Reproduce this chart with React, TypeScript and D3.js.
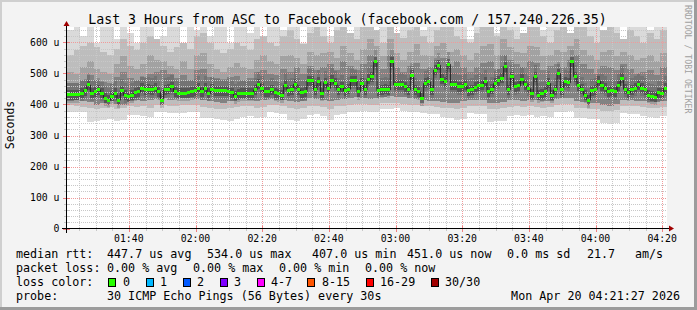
import React from 'react';
import * as d3 from 'd3';

const TITLE = 'Last 3 Hours from ASC to Facebook (facebook.com / 157.240.226.35)';
const START = new Date(2026, 3, 20, 1, 21, 27);
const END = new Date(2026, 3, 20, 4, 21, 27);
const Y_MAX = 650;

// median RTT (microseconds), one value per minute from START
const medianRtt = [
  431, 431, 431, 431, 436, 445, 463, 436, 441, 447,
  436, 420, 414, 427, 436, 414, 445, 430, 425, 430,
  438, 441, 452, 447, 449, 447, 452, 441, 414, 447,
  449, 457, 441, 436, 436, 436, 438, 441, 444, 452,
  441, 452, 436, 449, 444, 444, 444, 444, 443, 438,
  427, 434, 436, 436, 436, 436, 447, 466, 452, 441,
  441, 447, 438, 434, 430, 462, 445, 447, 466, 447,
  438, 441, 476, 476, 447, 473, 436, 470, 452, 479,
  468, 447, 457, 444, 449, 476, 476, 441, 468, 447,
  481, 490, 538, 444, 447, 449, 447, 538, 463, 463,
  463, 457, 447, 495, 447, 441, 420, 468, 473, 447,
  511, 527, 481, 473, 530, 463, 463, 457, 457, 463,
  445, 447, 456, 460, 462, 473, 441, 449, 468, 476,
  484, 522, 447, 489, 457, 460, 481, 463, 452, 435,
  489, 430, 434, 441, 468, 430, 447, 500, 447, 473,
  470, 538, 490, 460, 450, 430, 414, 444, 447, 475,
  460, 452, 441, 444, 441, 460, 484, 449, 438, 447,
  452, 463, 452, 447, 430, 427, 423, 438, 436, 452,
];

// smoke envelopes, one value per 2 minutes
const smokeMax = [
  640, 660, 620, 660, 600, 660, 660, 610, 660, 630,
  600, 660, 660, 590, 620, 660, 660, 600, 660, 640,
  660, 620, 660, 660, 600, 660, 660, 630, 660, 610,
  660, 660, 640, 660, 660, 600, 660, 660, 660, 620,
  660, 660, 610, 660, 660, 660, 630, 660, 660, 600,
  660, 660, 660, 640, 660, 660, 620, 660, 660, 660,
  610, 660, 660, 660, 630, 660, 660, 660, 600, 660,
  660, 640, 660, 660, 660, 620, 660, 660, 660, 660,
  630, 660, 660, 610, 660, 660, 660, 640, 660, 660,
];
const smokeHi2 = [
  560, 575, 590, 600, 585, 570, 560, 580, 610, 590,
  575, 600, 620, 610, 590, 570, 585, 600, 580, 620,
  630, 600, 575, 565, 580, 600, 590, 575, 610, 620,
  600, 590, 620, 640, 610, 595, 630, 650, 620, 600,
  640, 660, 630, 610, 650, 660, 640, 600, 660, 630,
  615, 640, 660, 620, 600, 640, 660, 650, 620, 610,
  600, 630, 660, 650, 620, 660, 640, 610, 630, 660,
  650, 620, 600, 640, 660, 630, 660, 650, 620, 600,
  640, 660, 630, 610, 640, 620, 600, 630, 610, 640,
];
const smokeHiMid = [
  505, 500, 520, 540, 515, 505, 500, 530, 555, 525,
  515, 530, 560, 545, 540, 525, 515, 540, 515, 560,
  565, 530, 515, 505, 520, 535, 520, 515, 545, 560,
  540, 530, 555, 560, 550, 530, 570, 560, 565, 570,
  550, 590, 565, 545, 580, 610, 590, 555, 610, 565,
  545, 570, 595, 560, 555, 590, 600, 570, 580, 560,
  545, 565, 590, 595, 560, 610, 585, 570, 565, 590,
  585, 555, 560, 575, 570, 590, 610, 575, 560, 545,
  570, 575, 555, 570, 560, 545, 550, 560, 540, 565,
];
const smokeHi1 = [
  470, 468, 480, 495, 478, 472, 470, 490, 505, 485,
  480, 490, 500, 505, 510, 500, 485, 495, 480, 510,
  515, 490, 485, 480, 488, 492, 478, 485, 505, 510,
  500, 495, 515, 505, 520, 500, 525, 510, 520, 530,
  510, 540, 525, 510, 530, 560, 545, 515, 560, 520,
  505, 525, 535, 515, 520, 545, 550, 525, 540, 520,
  505, 520, 535, 540, 515, 560, 545, 530, 520, 540,
  535, 510, 525, 530, 520, 545, 560, 530, 515, 500,
  525, 520, 510, 530, 515, 500, 505, 510, 495, 520,
];
const smokeLo1 = [
  412, 414, 410, 408, 400, 405, 410, 402, 400, 412,
  416, 410, 415, 418, 420, 415, 418, 420, 422, 418,
  414, 410, 408, 405, 410, 415, 418, 414, 412, 416,
  418, 415, 416, 410, 408, 412, 420, 418, 415, 410,
  416, 418, 420, 425, 422, 418, 420, 424, 428, 425,
  423, 420, 418, 415, 412, 410, 408, 405, 404, 410,
  416, 414, 415, 405, 404, 408, 414, 416, 412, 415,
  414, 412, 410, 418, 420, 422, 410, 408, 406, 404,
  398, 396, 402, 415, 414, 412, 410, 408, 408, 412,
];
const smokeLo2 = [
  398, 396, 392, 388, 385, 390, 393, 386, 388, 395,
  392, 394, 390, 398, 400, 396, 395, 398, 399, 400,
  392, 388, 386, 384, 390, 392, 396, 394, 390, 393,
  400, 398, 395, 388, 386, 390, 396, 394, 392, 386,
  395, 396, 400, 402, 401, 398, 400, 405, 406, 404,
  402, 400, 398, 396, 394, 392, 390, 388, 386, 390,
  396, 395, 394, 384, 385, 388, 392, 394, 393, 395,
  392, 390, 392, 400, 401, 402, 390, 388, 386, 385,
  380, 378, 382, 396, 395, 394, 392, 390, 389, 392,
];
const smokeMin = [
  377, 377, 375, 344, 346, 350, 352, 348, 350, 366,
  366, 364, 360, 377, 375, 371, 371, 372, 376, 377,
  355, 356, 354, 350, 348, 352, 360, 362, 358, 360,
  377, 372, 370, 350, 348, 352, 366, 368, 364, 350,
  366, 368, 377, 376, 378, 375, 377, 387, 386, 388,
  380, 377, 375, 372, 370, 368, 360, 355, 350, 352,
  372, 370, 370, 344, 346, 348, 362, 365, 364, 366,
  360, 362, 360, 377, 376, 378, 355, 356, 354, 352,
  340, 338, 340, 372, 370, 368, 362, 360, 358, 362,
];

const yMajorTicks = [0, 100, 200, 300, 400, 500, 600];
const yTickLabels = ['0', '100 u', '200 u', '300 u', '400 u', '500 u', '600 u'];
const yMinorTicks = [20, 40, 60, 80, 120, 140, 160, 180, 220, 240, 260, 280, 320, 340, 360, 380, 420, 440, 460, 480, 520, 540, 560, 580, 620, 640];

const rttLegend = ['median rtt:', '447.7 us avg', '534.0 us max', '407.0 us min', '451.0 us now', '0.0 ms sd', '21.7', 'am/s'];
const lossLegend = ['packet loss:', '0.00 % avg', '0.00 % max', '0.00 % min', '0.00 % now'];
const lossLabels = ['0', '1', '2', '3', '4-7', '8-15', '16-29', '30/30'];
const lossColors = ['#26ff00', '#00b8ff', '#0059ff', '#7e00ff', '#ff00ff', '#ff5500', '#ff0000', '#a10000'];
const probeLegend = ['probe:', '30 ICMP Echo Pings (56 Bytes) every 30s'];
const timestamp = 'Mon Apr 20 04:21:27 2026';

const MONO = '"DejaVu Sans Mono", monospace';

export default function App() {
  const W = 697, H = 310;
  const L = 67, R = 667, T = 27, B = 228.5;
  const x = d3.scaleTime().domain([START, END]).range([L, R]);
  const y = d3.scaleLinear().domain([0, Y_MAX]).range([B, T]);
  const tAt = (m: number) => d3.timeMinute.offset(START, m);
  const minorX = d3.timeMinute.every(5)!.range(START, END);
  const majorX = d3.timeMinute.every(20)!.range(START, END);
  const fmt = d3.timeFormat('%H:%M');
  const px = (v: number) => Math.round(v) + 0.5;

  const bands: [number[], number[], string][] = [
    [smokeMin, smokeMax, '#dadada'],
    [smokeLo2, smokeHi2, '#bdbdbd'],
    [smokeLo1, smokeHiMid, '#a2a2a2'],
    [smokeLo1, smokeHi1, '#828282'],
  ];

  const medLine = d3.line<number>()
    .x((_, i) => x(tAt(i)))
    .y((d) => y(d))
    .curve(d3.curveStepAfter)(medianRtt) || '';

  const rttX = [16, 107, 207, 312, 407, 507, 587, 635];
  const lossX = [16, 107, 193, 279, 365];
  const boxX = [108, 145.5, 182.5, 219.5, 256.5, 307, 365.5, 430.5];
  const lblX = [123, 160, 197, 234, 271, 322, 380, 445];

  return (
    <svg width={W} height={H} style={{ position: 'fixed', left: 0, top: 0, display: 'block' }}
      fontFamily={MONO}>
      <defs>
        <clipPath id="plot"><rect x={L} y={T} width={R - L} height={B - T} /></clipPath>
      </defs>
      <rect x={0} y={0} width={W} height={H} fill="#f3f3f3" />
      <rect x={0} y={0} width={W} height={2} fill="#cfcfcf" />
      <rect x={0} y={0} width={2} height={H} fill="#cfcfcf" />
      <rect x={0} y={H - 3} width={W} height={3} fill="#9c9c9c" />
      <rect x={W - 3} y={0} width={3} height={H} fill="#9c9c9c" />

      <rect x={L} y={T} width={R - L} height={B - T} fill="#ffffff" />

      <g clipPath="url(#plot)" shapeRendering="crispEdges">
        {bands.map(([lo, hi, c], bi) => (
          <g key={bi} fill={c}>
            {lo.map((v, j) => {
              const x0 = x(tAt(2 * j)), x1 = x(tAt(2 * j + 2));
              return <rect key={j} x={x0} y={y(hi[j])} width={x1 - x0} height={y(v) - y(hi[j])} />;
            })}
          </g>
        ))}
        <g fill="#505050">
          {medianRtt.map((v, k) => {
            const x0 = x(tAt(k)), x1 = x(tAt(k + 1));
            return <rect key={k} x={x0} y={y(v) - 12} width={x1 - x0} height={20} opacity={0.28} />;
          })}
        </g>
        <g fill="#3c3c3c">
          {medianRtt.map((v, k) => {
            const x0 = x(tAt(k)), x1 = x(tAt(k + 1));
            return <rect key={k} x={x0} y={y(v) - 5} width={x1 - x0} height={10} opacity={0.55} />;
          })}
        </g>
      </g>

      {/* grid */}
      <g shapeRendering="crispEdges" strokeWidth={1} strokeDasharray="1,1">
        {minorX.map((t, i) => (
          <line key={'mx' + i} x1={px(x(t))} x2={px(x(t))} y1={T} y2={B} stroke="#c8c8c8" />
        ))}
        {yMinorTicks.map((v, i) => (
          <line key={'my' + i} x1={L} x2={R} y1={px(y(v))} y2={px(y(v))} stroke="#c8c8c8" />
        ))}
        {majorX.map((t, i) => (
          <line key={'Mx' + i} x1={px(x(t))} x2={px(x(t))} y1={T} y2={B} stroke="#f09a9a" />
        ))}
        {yMajorTicks.filter((v) => v > 0).map((v, i) => (
          <line key={'My' + i} x1={L} x2={R} y1={px(y(v))} y2={px(y(v))} stroke="#f09a9a" />
        ))}
      </g>

      {/* median */}
      <g clipPath="url(#plot)">
        <path d={medLine} fill="none" stroke="#202020" strokeWidth={1} />
        <g fill={lossColors[0]} shapeRendering="crispEdges">
          {medianRtt.map((v, k) => {
            const x0 = x(tAt(k)), x1 = x(tAt(k + 1));
            return <rect key={k} x={x0} y={y(v) - 1.5} width={x1 - x0} height={3} />;
          })}
        </g>
      </g>

      {/* axes */}
      <g shapeRendering="crispEdges">
        {minorX.map((t, i) => (
          <line key={'tx' + i} x1={px(x(t))} x2={px(x(t))} y1={227} y2={231} stroke="#c8c8c8" />
        ))}
        {majorX.map((t, i) => (
          <line key={'Tx' + i} x1={px(x(t))} x2={px(x(t))} y1={226} y2={232} stroke="#f08080" />
        ))}
        {yMinorTicks.map((v, i) => (
          <line key={'ty' + i} x1={64} x2={69} y1={px(y(v))} y2={px(y(v))} stroke="#c8c8c8" />
        ))}
        {yMajorTicks.map((v, i) => (
          <line key={'Ty' + i} x1={63} x2={70} y1={px(y(v))} y2={px(y(v))} stroke="#f08080" />
        ))}
        <line x1={62} x2={670} y1={228.5} y2={228.5} stroke="#000" />
        <line x1={66.5} x2={66.5} y1={233} y2={23} stroke="#000" />
      </g>
      <path d="M669,225.5 L674,228.5 L669,231.5 Z" fill="#a00000" />
      <path d="M63.5,26 L66.5,21 L69.5,26 Z" fill="#a00000" />

      {/* tick labels */}
      <g fontSize={9.8} fill="#000">
        {majorX.map((t, i) => (
          <text key={i} x={x(t)} y={241.5} textAnchor="middle">{fmt(t)}</text>
        ))}
        {yMajorTicks.map((v, i) => (
          <text key={i} x={59.5} y={y(v) + 3.5} textAnchor="end">{yTickLabels[i]}</text>
        ))}
      </g>

      <text x={14} y={125} fontSize={11.5} textAnchor="middle" transform="rotate(-90 14 125)" fill="#000">Seconds</text>
      <text x={685} y={5} fontSize={8.2} fill="#a0a0a0" transform="rotate(90 685 5)">RRDTOOL / TOBI OETIKER</text>

      <text x={347.5} y={24} fontSize={13.25} textAnchor="middle" fill="#000">{TITLE}</text>

      <g fontSize={11.7} fill="#000" style={{ whiteSpace: 'pre' }}>
        {rttLegend.map((s, i) => <text key={'r' + i} x={rttX[i]} y={258}>{s}</text>)}
        {lossLegend.map((s, i) => <text key={'l' + i} x={lossX[i]} y={272}>{s}</text>)}
        <text x={16} y={286}>loss color:</text>
        {lossLabels.map((s, i) => (
          <g key={'c' + i}>
            <rect x={boxX[i] + 0.5} y={278.5} width={7} height={8} fill={lossColors[i]} stroke="#000" strokeWidth={1} shapeRendering="crispEdges" />
            <text x={lblX[i]} y={286}>{s}</text>
          </g>
        ))}
        <text x={16} y={300}>{probeLegend[0]}</text>
        <text x={107} y={300}>{probeLegend[1]}</text>
        <text x={680} y={300} textAnchor="end">{timestamp}</text>
      </g>
    </svg>
  );
}
